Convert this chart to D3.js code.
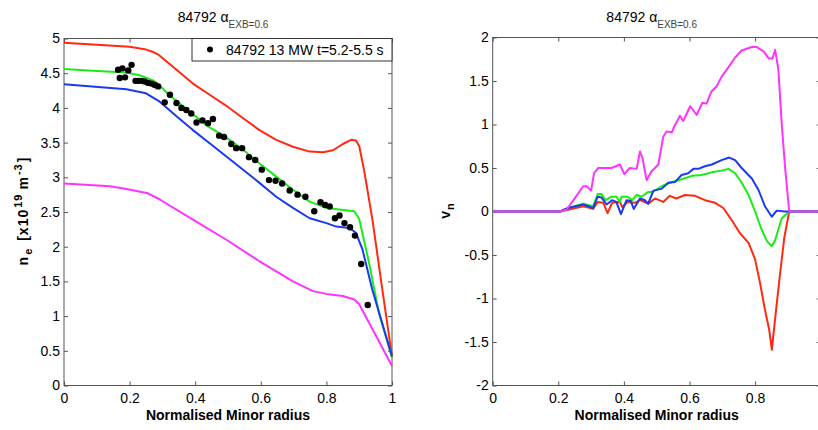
<!DOCTYPE html>
<html>
<head>
<meta charset="utf-8">
<script src="https://cdn.jsdelivr.net/npm/d3@7"></script>
<style>
  body { margin: 0; background: #fff; }
  text { font-family: "Liberation Sans", Arial, Helvetica, sans-serif; }
</style>
</head>
<body>
<div id="chart"></div>
<script>
// ---- data ----
const shotLabel = "84792 ";
const alphaSub = "EXB=0.6";
const legendLabel = "84792 13 MW t=5.2-5.5 s";
const xTitle = "Normalised Minor radius";

const xTicks = [0, 0.2, 0.4, 0.6, 0.8, 1];
const neTicks = [0, 0.5, 1, 1.5, 2, 2.5, 3, 3.5, 4, 4.5, 5];
const vnTicks = [-2, -1.5, -1, -0.5, 0, 0.5, 1, 1.5, 2];

// density profiles [r, ne]
const neRed = [[0,4.94],[0.1,4.91],[0.2,4.88],[0.25,4.84],[0.27,4.81],[0.29,4.76],[0.343,4.55],[0.393,4.35],[0.444,4.19],[0.495,4.03],[0.546,3.85],[0.596,3.68],[0.647,3.54],[0.698,3.44],[0.749,3.37],[0.79,3.36],[0.82,3.39],[0.85,3.48],[0.875,3.54],[0.89,3.53],[0.9,3.45],[0.915,3.10],[0.94,2.40],[0.97,1.40],[1.0,0.42]];
const neGreen = [[0,4.56],[0.1,4.53],[0.19,4.51],[0.23,4.47],[0.27,4.40],[0.29,4.33],[0.32,4.19],[0.39,3.92],[0.44,3.73],[0.49,3.59],[0.545,3.40],[0.596,3.20],[0.647,3.01],[0.698,2.82],[0.749,2.65],[0.8,2.56],[0.85,2.53],[0.885,2.51],[0.9,2.40],[0.93,1.77],[0.96,1.05],[1.0,0.40]];
const neBlue = [[0,4.34],[0.19,4.27],[0.25,4.21],[0.292,4.09],[0.343,3.88],[0.393,3.68],[0.444,3.49],[0.495,3.30],[0.546,3.11],[0.596,2.92],[0.647,2.72],[0.698,2.56],[0.749,2.41],[0.8,2.34],[0.83,2.29],[0.87,2.27],[0.89,2.20],[0.91,1.96],[0.94,1.38],[1.0,0.42]];
const neMagenta = [[0,2.91],[0.14,2.87],[0.19,2.83],[0.256,2.77],[0.292,2.68],[0.393,2.39],[0.495,2.10],[0.596,1.79],[0.698,1.50],[0.759,1.36],[0.8,1.32],[0.85,1.29],[0.885,1.24],[0.9,1.17],[1.0,0.28]];
const neMeasured = [[0.165,4.55],[0.178,4.57],[0.196,4.54],[0.206,4.62],[0.170,4.43],[0.186,4.44],[0.218,4.39],[0.226,4.39],[0.236,4.39],[0.246,4.38],[0.257,4.36],[0.267,4.35],[0.277,4.33],[0.287,4.31],[0.307,4.08],[0.323,4.19],[0.343,4.07],[0.358,4.00],[0.373,3.97],[0.388,3.92],[0.404,3.79],[0.422,3.82],[0.439,3.78],[0.454,3.84],[0.473,3.60],[0.488,3.58],[0.510,3.48],[0.525,3.42],[0.543,3.42],[0.564,3.29],[0.583,3.25],[0.603,3.11],[0.625,2.96],[0.645,2.95],[0.665,2.91],[0.688,2.81],[0.712,2.75],[0.736,2.72],[0.763,2.51],[0.782,2.64],[0.796,2.60],[0.810,2.58],[0.826,2.41],[0.840,2.45],[0.855,2.34],[0.872,2.28],[0.887,2.16],[0.906,1.75],[0.926,1.16]];

// pinch velocity profiles [r, vn]
const vnRed = [[0,0],[0.205,0],[0.23,0.02],[0.276,0.06],[0.306,0.03],[0.32,0.11],[0.337,0.10],[0.35,-0.02],[0.364,0.10],[0.388,0.11],[0.395,0.05],[0.411,0.11],[0.433,0.10],[0.449,0.13],[0.474,0.09],[0.495,0.15],[0.52,0.11],[0.54,0.18],[0.56,0.15],[0.586,0.19],[0.617,0.18],[0.647,0.13],[0.678,0.10],[0.703,0.04],[0.729,-0.10],[0.754,-0.25],[0.78,-0.36],[0.80,-0.55],[0.815,-0.82],[0.83,-1.13],[0.843,-1.36],[0.851,-1.59],[0.862,-1.20],[0.875,-0.75],[0.889,-0.30],[0.904,0],[1,0]];
const vnGreen = [[0,0],[0.205,0],[0.23,0.04],[0.276,0.09],[0.306,0.06],[0.32,0.20],[0.332,0.20],[0.344,0.13],[0.362,0.17],[0.377,0.17],[0.388,0.11],[0.393,0.17],[0.411,0.17],[0.425,0.13],[0.439,0.19],[0.454,0.17],[0.472,0.22],[0.49,0.23],[0.515,0.29],[0.54,0.33],[0.576,0.37],[0.607,0.41],[0.637,0.42],[0.668,0.45],[0.698,0.47],[0.719,0.49],[0.739,0.44],[0.759,0.33],[0.78,0.19],[0.80,0.0],[0.82,-0.21],[0.836,-0.34],[0.851,-0.40],[0.861,-0.33],[0.881,-0.08],[0.904,0],[1,0]];
const vnBlue = [[0,0],[0.205,0],[0.23,0.04],[0.276,0.08],[0.306,0.04],[0.32,0.17],[0.332,0.16],[0.347,0.08],[0.364,0.13],[0.377,0.11],[0.391,-0.03],[0.408,0.13],[0.421,0.12],[0.43,0.03],[0.449,0.15],[0.464,0.13],[0.474,0.09],[0.49,0.24],[0.515,0.26],[0.535,0.33],[0.556,0.34],[0.576,0.42],[0.596,0.44],[0.612,0.49],[0.627,0.49],[0.647,0.52],[0.668,0.54],[0.698,0.59],[0.721,0.62],[0.739,0.59],[0.759,0.50],[0.79,0.38],[0.81,0.25],[0.83,0.06],[0.851,-0.06],[0.866,0.01],[0.89,0.0],[0.904,0],[1,0]];
const vnMagenta = [[0,0],[0.205,0],[0.225,0.02],[0.25,0.15],[0.276,0.29],[0.287,0.29],[0.30,0.24],[0.309,0.44],[0.322,0.50],[0.362,0.50],[0.388,0.54],[0.401,0.43],[0.418,0.50],[0.439,0.49],[0.449,0.69],[0.457,0.61],[0.469,0.36],[0.484,0.46],[0.505,0.54],[0.520,0.86],[0.530,0.92],[0.546,0.91],[0.554,0.98],[0.571,1.10],[0.581,1.04],[0.602,1.21],[0.622,1.11],[0.639,1.25],[0.652,1.24],[0.667,1.38],[0.683,1.44],[0.698,1.55],[0.719,1.66],[0.739,1.77],[0.759,1.85],[0.790,1.89],[0.805,1.89],[0.826,1.84],[0.841,1.76],[0.853,1.76],[0.861,1.86],[0.871,1.63],[0.881,1.01],[0.892,0.48],[0.904,0],[1,0]];

// ---- drawing ----
const width = 818, height = 430;
const colors = { red: "#ff2a10", green: "#18ec18", blue: "#1a3af0", magenta: "#ff33ff" };
const axisColor = "#555";

const svg = d3.select("#chart").append("svg")
    .attr("width", width)
    .attr("height", height);

function styleAxis(g) {
    g.select(".domain").remove();
    g.selectAll(".tick line").attr("stroke", axisColor);
    g.selectAll(".tick text")
        .attr("fill", "#000")
        .style("font-size", "14px")
        .style("font-family", "'Liberation Sans', Arial, sans-serif");
}

function drawPanel(opts) {
    const x = d3.scaleLinear().domain([0, 1]).range(opts.xRange);
    const y = d3.scaleLinear().domain(opts.yDomain).range(opts.yRange);
    const g = svg.append("g");

    // axes, ticks pointing inwards; labels only where they fit in the window
    const xLabelled = xTicks.filter(t => x(t) <= width - 6);
    g.append("g").attr("transform", `translate(0,${opts.yRange[0]})`)
        .call(d3.axisBottom(x).tickValues(xTicks).tickSize(-4).tickPadding(8)
            .tickFormat(d => xLabelled.includes(d) ? String(d) : ""))
        .call(styleAxis);
    g.append("g").attr("transform", `translate(0,${opts.yRange[1]})`)
        .call(d3.axisTop(x).tickValues(xTicks).tickSize(-4).tickFormat(""))
        .call(styleAxis);
    g.append("g").attr("transform", `translate(${opts.xRange[0]},0)`)
        .call(d3.axisLeft(y).tickValues(opts.yTicks).tickSize(-4).tickPadding(4).tickFormat(d => String(d)))
        .call(styleAxis);
    g.append("g").attr("transform", `translate(${opts.xRange[1]},0)`)
        .call(d3.axisRight(y).tickValues(opts.yTicks).tickSize(-4).tickFormat(""))
        .call(styleAxis);

    // box
    g.append("rect")
        .attr("x", opts.xRange[0]).attr("y", opts.yRange[1])
        .attr("width", opts.xRange[1] - opts.xRange[0])
        .attr("height", opts.yRange[0] - opts.yRange[1])
        .attr("fill", "none").attr("stroke", axisColor).attr("stroke-width", 1);

    const line = d3.line().x(d => x(d[0])).y(d => y(d[1]));
    opts.series.forEach(s => {
        g.append("path")
            .datum(s.data)
            .attr("fill", "none")
            .attr("stroke", s.color)
            .attr("stroke-width", 2)
            .attr("stroke-linejoin", "round")
            .attr("d", line);
    });

    // title
    const cx = (opts.xRange[0] + opts.xRange[1]) / 2 - 5;
    const title = g.append("text")
        .attr("x", cx).attr("y", 22)
        .attr("text-anchor", "middle")
        .style("font-size", "14px");
    title.append("tspan").text(shotLabel + "\u03b1");
    title.append("tspan").attr("dy", 6).style("font-size", "10px").attr("fill", "#444").text(alphaSub);

    // x title
    g.append("text")
        .attr("x", (opts.xRange[0] + opts.xRange[1]) / 2)
        .attr("y", 420)
        .attr("text-anchor", "middle")
        .style("font-size", "14px").style("font-weight", "bold")
        .text(xTitle);

    return { x, y, g };
}

const left = drawPanel({
    xRange: [64, 392], yDomain: [0, 5], yRange: [385.5, 38.5], yTicks: neTicks,
    series: [
        { data: neRed, color: colors.red },
        { data: neGreen, color: colors.green },
        { data: neBlue, color: colors.blue },
        { data: neMagenta, color: colors.magenta }
    ]
});

// measured points
left.g.append("g").selectAll("circle")
    .data(neMeasured)
    .join("circle")
    .attr("cx", d => left.x(d[0]))
    .attr("cy", d => left.y(d[1]))
    .attr("r", 3.2)
    .attr("fill", "#000");

// legend
const legend = left.g.append("g");
legend.append("rect")
    .attr("x", 192).attr("y", 38.5).attr("width", 200).attr("height", 22.5)
    .attr("fill", "#fff").attr("stroke", "#333");
legend.append("circle").attr("cx", 210).attr("cy", 49.5).attr("r", 3).attr("fill", "#000");
legend.append("text").attr("x", 226).attr("y", 55)
    .style("font-size", "14px").text(legendLabel);

// y label left (TeX-like spacing, a little airy as in the original)
const yl = left.g.append("text")
    .attr("transform", "translate(28,211) rotate(-90)")
    .attr("text-anchor", "middle")
    .style("font-size", "14px").style("font-weight", "bold")
    .style("letter-spacing", "1px");
yl.append("tspan").text("n");
yl.append("tspan").attr("dx", 1).attr("dy", 4).style("font-size", "11px").text("e");
yl.append("tspan").attr("dx", 2).attr("dy", -4).text(" [x10");
yl.append("tspan").attr("dx", 1).attr("dy", -6).style("font-size", "11px").text("19");
yl.append("tspan").attr("dx", 4).attr("dy", 6).text("m");
yl.append("tspan").attr("dx", 1).attr("dy", -6).style("font-size", "11px").text("-3");
yl.append("tspan").attr("dx", 1).attr("dy", 6).text("]");

const right = drawPanel({
    xRange: [492.7, 820.7], yDomain: [-2, 2], yRange: [385.5, 37.5], yTicks: vnTicks,
    series: [
        { data: vnRed, color: colors.red },
        { data: vnGreen, color: colors.green },
        { data: vnBlue, color: colors.blue },
        { data: vnMagenta, color: colors.magenta }
    ]
});

const yr = right.g.append("text")
    .attr("transform", "translate(450,211) rotate(-90)")
    .attr("text-anchor", "middle")
    .style("font-size", "14px").style("font-weight", "bold");
yr.append("tspan").text("v");
yr.append("tspan").attr("dx", 1).attr("dy", 4).style("font-size", "11px").text("n");
</script>
</body>
</html>
